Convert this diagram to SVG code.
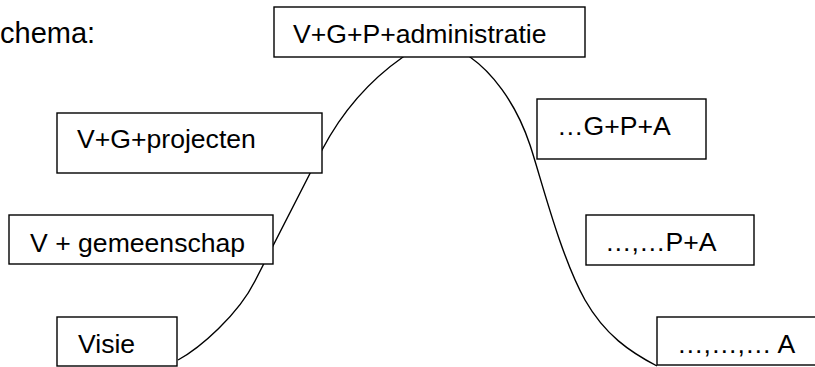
<svg xmlns="http://www.w3.org/2000/svg" width="815" height="367" viewBox="0 0 815 367">
<style>
.box{fill:#fff;stroke:#000;stroke-width:1.4}
.lbl{font-family:"Liberation Sans",Arial,sans-serif;font-size:26.6px;fill:#000}
.curve{fill:none;stroke:#000;stroke-width:1.4}
</style>
<rect width="815" height="367" fill="#fff"/>
<text class="lbl" x="0" y="43" style="font-size:29px">chema:</text>
<g id="connectors">
<path class="curve" d="M178,360 C200,348 238,315 255,281 L322,150 C344,108 373,78 403,57 C430,38 448,42 470,57 C490,71 515,100 530,145 C541,178 560,255 585,300 C605,335 630,352 657,366"/>
</g>
<g id="n-top"><rect class="box" x="274" y="7" width="311" height="50"/><text class="lbl" x="293" y="43">V+G+P+administratie</text></g>
<g id="n-proj"><rect class="box" x="57" y="113" width="265" height="60"/><text class="lbl" x="77" y="148">V+G+projecten</text></g>
<g id="n-gem"><rect class="box" x="9" y="215" width="264" height="49"/><text class="lbl" x="30" y="252">V + gemeenschap</text></g>
<g id="n-visie"><rect class="box" x="57" y="317" width="120" height="49"/><text class="lbl" x="78" y="353">Visie</text></g>
<g id="n-gpa"><rect class="box" x="537" y="99" width="169" height="60"/><text class="lbl" x="557" y="135">…G+P+A</text></g>
<g id="n-pa"><rect class="box" x="586" y="215" width="168" height="50"/><text class="lbl" x="605" y="251">…,…P+A</text></g>
<g id="n-a"><rect class="box" x="657" y="317" width="165" height="48"/><text class="lbl" x="677" y="353">…,…,… A</text></g>
</svg>
